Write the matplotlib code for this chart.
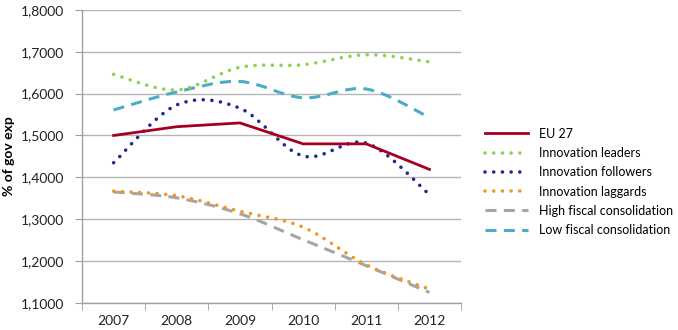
import numpy as np
import matplotlib.pyplot as plt
from matplotlib.path import Path
from matplotlib.patches import PathPatch
from matplotlib.lines import Line2D
from matplotlib.ticker import FuncFormatter

plt.rcParams['font.family'] = ['Lato', 'DejaVu Sans']

years = ['2007', '2008', '2009', '2010', '2011', '2012']

eu27 = [1.500, 1.521, 1.530, 1.480, 1.480, 1.419]
inno_leaders = [1.646, 1.609, 1.663, 1.669, 1.693, 1.676]
inno_followers = [1.435, 1.573, 1.565, 1.451, 1.482, 1.359]
inno_laggards = [1.367, 1.356, 1.319, 1.281, 1.191, 1.133]
high_fiscal = [1.365, 1.351, 1.313, 1.251, 1.189, 1.125]
low_fiscal = [1.561, 1.604, 1.629, 1.590, 1.611, 1.543]


def smooth_path(xs, ys, k=6.0):
    # cubic bezier through the points, Catmull-Rom style tangents
    xs = np.asarray(xs, float)
    ys = np.asarray(ys, float)
    n = len(xs)
    verts = [(xs[0], ys[0])]
    codes = [Path.MOVETO]
    for i in range(n - 1):
        i0 = max(i - 1, 0)
        i3 = min(i + 2, n - 1)
        c1 = (xs[i] + (xs[i + 1] - xs[i0]) / k, ys[i] + (ys[i + 1] - ys[i0]) / k)
        c2 = (xs[i + 1] - (xs[i3] - xs[i]) / k, ys[i + 1] - (ys[i3] - ys[i]) / k)
        verts += [c1, c2, (xs[i + 1], ys[i + 1])]
        codes += [Path.CURVE4] * 3
    return Path(verts, codes)


dotted = (0, (0.01, 2.4))
dashed = (0, (3.6, 2.4))

series = [
    ('EU 27', eu27, '#A50021', '-', 2.0, False),
    ('Innovation leaders', inno_leaders, '#92D050', dotted, 2.6, True),
    ('Innovation followers', inno_followers, '#1F2A8A', dotted, 2.6, True),
    ('Innovation laggards', inno_laggards, '#EE9628', dotted, 2.6, True),
    ('High fiscal consolidation', high_fiscal, '#A6A6A6', dashed, 2.2, True),
    ('Low fiscal consolidation', low_fiscal, '#4BACC6', dashed, 2.2, True),
]

fig = plt.figure(figsize=(6.78, 3.3), dpi=100)
ax = fig.add_axes([0.121, 0.082, 0.559, 0.888])

x = np.arange(len(years))
handles = []
# draw in reverse so EU 27 sits on top
for name, vals, color, ls, lw, smooth in reversed(series):
    cap = 'round' if ls is dotted else 'butt'
    if smooth:
        patch = PathPatch(smooth_path(x, vals), facecolor='none', edgecolor=color,
                          linewidth=lw, linestyle=ls, capstyle=cap, zorder=3)
        ax.add_patch(patch)
    else:
        ax.plot(x, vals, color=color, linewidth=lw, zorder=4)
for name, vals, color, ls, lw, smooth in series:
    cap = 'round' if ls is dotted else 'butt'
    handles.append(Line2D([], [], color=color, linewidth=lw, linestyle=ls,
                          dash_capstyle=cap, label=name))

ax.set_xlim(-0.5, len(years) - 0.5)
ax.set_ylim(1.1, 1.8)
ax.set_yticks(np.arange(1.1, 1.801, 0.1))
ax.yaxis.set_major_formatter(FuncFormatter(lambda v, p: f'{v:.4f}'.replace('.', ',')))
ax.set_xticks(x)
ax.set_xticklabels(years)
ax.set_xticks(np.arange(-0.5, len(years)), minor=True)
ax.tick_params(axis='x', which='major', length=0, pad=9, labelsize=10, colors='#222222')
ax.tick_params(axis='x', which='minor', length=5, color='#A0A0A0')
ax.tick_params(axis='y', length=5, labelsize=10, colors='#222222', pad=8)
ax.tick_params(axis='y', color='#A0A0A0')

ax.grid(axis='y', color='#B5B5B5', linewidth=1)
ax.set_axisbelow(True)
for s in ['top', 'right']:
    ax.spines[s].set_visible(False)
for s in ['left', 'bottom']:
    ax.spines[s].set_color('#A0A0A0')
    ax.spines[s].set_linewidth(1)

ax.set_ylabel('% of gov exp', fontsize=10, fontweight='bold')
ax.yaxis.set_label_coords(-0.178, 0.5)

fig.legend(handles=handles, loc='upper left', bbox_to_anchor=(0.708, 0.628),
           frameon=False, fontsize=9, handlelength=3.4, handletextpad=0.9,
           labelspacing=0.58, borderaxespad=0)

fig.savefig('out.png', dpi=100)
